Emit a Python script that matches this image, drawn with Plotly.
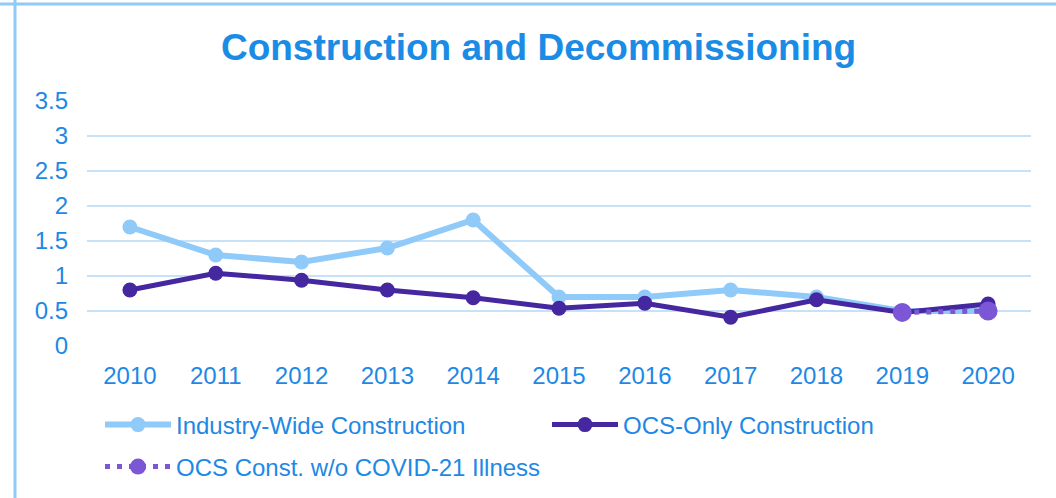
import plotly.graph_objects as go

years = ["2010", "2011", "2012", "2013", "2014", "2015", "2016", "2017", "2018", "2019", "2020"]
industry_wide = [1.7, 1.3, 1.2, 1.4, 1.8, 0.7, 0.7, 0.8, 0.7, 0.5, 0.5]
ocs_only = [0.8, 1.04, 0.94, 0.8, 0.69, 0.54, 0.61, 0.41, 0.66, 0.48, 0.6]
covid_years = ["2019", "2020"]
ocs_wo_covid = [0.48, 0.5]
y_ticks = [0, 0.5, 1, 1.5, 2, 2.5, 3, 3.5]
y_tick_text = ["0", "0.5", "1", "1.5", "2", "2.5", "3", "3.5"]

TEXT = "#1E88E5"
GRID = "#C6E2F9"
BORDER = "#90CAF9"
LIGHT = "#90CAF9"
DARK = "#4527A0"
MID = "#7B57D6"
FONT = "Liberation Sans, Arial, sans-serif"

fig = go.Figure()
fig.add_trace(go.Scatter(
    x=years, y=industry_wide, name="Industry-Wide Construction",
    mode="lines+markers", line=dict(color=LIGHT, width=6),
    marker=dict(color=LIGHT, size=15), legend="legend",
))
fig.add_trace(go.Scatter(
    x=years, y=ocs_only, name="OCS-Only Construction",
    mode="lines+markers", line=dict(color=DARK, width=5),
    marker=dict(color=DARK, size=15), legend="legend",
))
fig.add_trace(go.Scatter(
    x=covid_years, y=ocs_wo_covid, name="OCS Const. w/o COVID-21 Illness",
    mode="lines+markers", line=dict(color=MID, width=5, dash="5px,7px"),
    marker=dict(color=MID, size=19), legend="legend2",
))

W, H = 1056, 498
L, R, T, B = 87, 25, 101, 152
pw, ph = W - L - R, H - T - B

def px_x(p):
    return (p - L) / pw

def px_y(p):
    return (H - B - p) / ph

legend_common = dict(orientation="h", xanchor="left", yanchor="middle",
                     entrywidth=366, entrywidthmode="pixels", itemwidth=66,
                     font=dict(size=24, color=TEXT, family=FONT),
                     bgcolor="rgba(0,0,0,0)")

fig.update_layout(
    width=W, height=H,
    margin=dict(l=L, r=R, t=T, b=B, autoexpand=False),
    paper_bgcolor="white", plot_bgcolor="white",
    font=dict(family=FONT, color=TEXT, size=24),
    title=dict(text="<b>Construction and Decommissioning</b>",
               font=dict(size=37, color="#1A8CE6", family=FONT),
               x=0.51, xanchor="center", y=0.905, yanchor="middle"),
    xaxis=dict(type="category", range=[-0.5, len(years) - 0.5],
               showgrid=False, zeroline=False, showline=False,
               ticks="", tickfont=dict(size=24, color=TEXT), ticklabelstandoff=13),
    yaxis=dict(range=[0, 3.5], tickvals=y_ticks, ticktext=y_tick_text,
               showgrid=True, gridcolor=GRID, gridwidth=2, zeroline=False,
               showline=False, ticks="", tickfont=dict(size=24, color=TEXT),
               ticklabelstandoff=18),
    showlegend=True,
    legend=dict(x=px_x(100), y=px_y(425), **legend_common),
    legend2=dict(x=px_x(100), y=px_y(467), **legend_common),
    shapes=[
        dict(type="line", xref="paper", yref="paper",
             x0=px_x(0), x1=px_x(W), y0=px_y(4), y1=px_y(4),
             line=dict(color=BORDER, width=3)),
        dict(type="line", xref="paper", yref="paper",
             x0=px_x(15), x1=px_x(15), y0=px_y(0), y1=px_y(H),
             line=dict(color=BORDER, width=3)),
    ],
)

fig.write_html("out.html", config={"displayModeBar": False},
               post_script="document.body.style.margin='0';")
